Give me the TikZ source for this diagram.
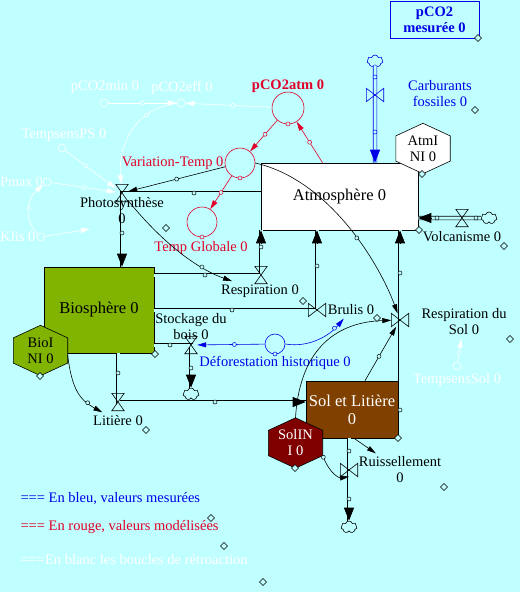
\documentclass[tikz,border=0pt]{standalone}
\usepackage{fontspec}
\setmainfont{Liberation Serif}
\usetikzlibrary{arrows.meta,calc,shapes.symbols,decorations.markings}

\definecolor{fond}{RGB}{192,255,255}
\definecolor{vert}{RGB}{128,180,0}
\definecolor{brun}{RGB}{128,64,0}
\definecolor{bordeaux}{RGB}{128,0,0}
\definecolor{rouge}{RGB}{225,0,40}
\definecolor{bleu}{RGB}{0,0,230}

\tikzset{
  stock/.style={draw, line width=0.6pt, inner sep=0pt, align=center,
    font=\fontsize{16.5}{18}\selectfont},
  hexa/.style={inner sep=0pt, minimum width=54pt, minimum height=50pt},
  aux/.style={circle, draw, line width=0.6pt, inner sep=0pt, minimum size=#1},
  valvehg/.style={inner sep=0pt, minimum width=12pt, minimum height=17pt},
  valvebt/.style={inner sep=0pt, minimum width=17pt, minimum height=13pt},
  cloudy/.style={cloud, cloud puffs=7, aspect=1.3, draw, line width=0.6pt,
    inner sep=0pt, minimum width=16pt, minimum height=12pt},
  pipe/.style={line width=0.7pt, double=fond, double distance=3pt},
  pipetip/.style={line width=0.7pt, -{Triangle[length=13pt,width=10pt]}},
  link/.style={line width=0.6pt, -{Triangle[length=9pt,width=5pt]}},
  wlink/.style={link, white},
  knob/.style={postaction={decorate, decoration={markings,
    mark=at position #1 with {\draw[-, fill=fond, line width=0.5pt] (0,0) circle (2pt);}}}}
}

\begin{document}
\begin{tikzpicture}[x=1pt, y=-1pt, font=\fontsize{14.5}{16}\selectfont]
  \fill[fond] (0,0) rectangle (520,592);
  \useasboundingbox (0,0) rectangle (520,592);

  % stocks
  \node[stock, fill=white, minimum width=157pt, minimum height=67pt] (atm) at (339.5,196.5) {Atmosphère 0};
  \node[stock, fill=vert, minimum width=110pt, minimum height=86pt] (bio) at (99,310) {Biosphère 0};
  \node[stock, fill=brun, text=white, minimum width=92pt, minimum height=57pt] (sol) at (352,409.5) {Sol et Litière\\0};

  % valeurs initiales
  \foreach \n/\x/\y/\f in {atmini/423/148.5/white, bioini/40.5/350.5/vert, solini/295.5/443/bordeaux} {
    \node[hexa] (\n) at (\x,\y) {};
    \filldraw[fill=\f, line width=0.6pt] (\n.north) -- ($(\n.north east)!.5!(\n.east)$)
      -- ($(\n.east)!.5!(\n.south east)$) -- (\n.south)
      -- ($(\n.south west)!.5!(\n.west)$) -- ($(\n.west)!.5!(\n.north west)$) -- cycle;
  }
  \node[align=center] (atmini-t) at (atmini) {AtmI\\NI 0};
  \node[align=center] (bioini-t) at (bioini) {BioI\\NI 0};
  \node[align=center, text=white] (solini-t) at (solini) {SolIN\\I 0};

  % flux
  \node[cloudy, bleu] (c-carb) at (375,61) {};
  \node[cloudy] (c-volc) at (489,218) {};
  \node[cloudy] (c-stock) at (191,394) {};
  \node[cloudy] (c-ruis) at (349,527) {};
  \node[valvebt] (carb) at (375,95) {};
  \node[valvehg] (volc) at (462,218) {};
  \node[valvehg] (ps) at (122,193) {};
  \node[valvehg] (resp) at (261,275) {};
  \node[valvebt] (brul) at (317,310) {};
  \node[valvehg] (stock) at (191,345) {};
  \node[valvehg] (lit) at (118,402) {};
  \node[valvebt] (rsol) at (400,320) {};
  \node[valvebt] (ruis) at (349,470) {};

  \coordinate (carb-e) at (carb |- atm.north);
  \coordinate (volc-e) at (volc -| atm.east);
  \coordinate (ps-e) at (ps |- bio.north);
  \coordinate (resp-e) at (resp |- atm.south);
  \coordinate (brul-e) at (brul |- atm.south);
  \coordinate (stock-e) at (c-stock.north);
  \coordinate (lit-e) at (lit -| sol.west);
  \coordinate (rsol-e) at (rsol |- atm.south);
  \coordinate (ruis-e) at (c-ruis.north);

  \draw[pipe, bleu] (c-carb.south) -- (carb-e);
  \draw[pipe] (c-volc.west) -- (volc-e);
  \draw[pipe] (ps -| atm.west) -- (ps.center) -- (ps-e);
  \draw[pipe] (resp -| bio.east) -- (resp.center) -- (resp-e);
  \draw[pipe] (brul -| bio.east) -- (brul.center) -- (brul-e);
  \draw[pipe] (stock -| bio.east) -- (stock.center) -- (stock-e);
  \draw[pipe] (lit |- bio.south) -- (lit.center) -- (lit-e);
  \draw[pipe] (rsol |- sol.east) -- (rsol-e);
  \draw[pipe] (ruis |- sol.south) -- (ruis-e);

  \foreach \v/\c in {carb/bleu, volc/black, ps/black, resp/black, brul/black,
                     stock/black, lit/black, rsol/black, ruis/black}
    \draw[pipetip, \c] ($(\v-e)!13pt!(\v)$) -- (\v-e);
  \foreach \v in {volc, ps, resp, stock, lit}
    \draw[line width=0.6pt] (\v.north west) -- (\v.south east) -- (\v.south west) -- (\v.north east) -- cycle;
  \foreach \v/\c in {carb/bleu, brul/black, rsol/black, ruis/black}
    \draw[\c, line width=0.6pt] (\v.north west) -- (\v.south east) -- (\v.north east) -- (\v.south west) -- cycle;

  \node[bleu, align=center] (carb-l) at (440,94) {Carburants\\fossiles 0};
  \node (volc-l) at (462,237) {Volcanisme 0};
  \node[align=center] (ps-l) at (122,211) {Photosynthèse\\0};
  \node (resp-l) at (260,291) {Respiration 0};
  \node (brul-l) at (351,310) {Brulis 0};
  \node[align=center] (stock-l) at (191,327) {Stockage du\\bois 0};
  \node (lit-l) at (118,421) {Litière 0};
  \node[align=center] (rsol-l) at (464,322) {Respiration du\\Sol 0};
  \node[align=center] (ruis-l) at (400,470) {Ruissellement\\0};

  % variables
  \node[draw=bleu, line width=0.6pt, text=bleu, font=\fontsize{14.5}{16}\selectfont\bfseries,
    align=center, minimum width=89pt, minimum height=37pt, inner sep=0pt] (pmes) at (434.5,19.5) {pCO2\\mesurée 0};
  \node[aux=32pt, rouge] (pco2atm) at (288,108) {};
  \node[aux=30pt, rouge] (vartemp) at (240,163) {};
  \node[aux=30pt, rouge] (tglob) at (202,222) {};
  \node[aux=20pt, bleu] (defo) at (275,344) {};
  \foreach \n/\x/\y in {pco2eff/181/103, pco2min/104/103, tsps/62/148, pmax/47/182, klis/41/237, tsol/457/366}
    \node[aux=8pt, white] (\n) at (\x,\y) {};

  \node[rouge, font=\fontsize{14.5}{16}\selectfont\bfseries] (pco2atm-l) at (288,86) {pCO2atm 0};
  \node[rouge, anchor=east] (vartemp-l) at (227,163) {Variation-Temp 0};
  \node[rouge] (tglob-l) at (201,248) {Temp Globale 0};
  \node[bleu] (defo-l) at (275,363) {Déforestation historique 0};
  \node[white] (pco2min-l) at (105,87) {pCO2min 0};
  \node[white] (pco2eff-l) at (182,88) {pCO2eff 0};
  \node[white] (tsps-l) at (64,135) {TempsensPS 0};
  \node[white, anchor=east, inner sep=0.5pt, font=\fontsize{14}{16}\selectfont] (pmax-l) at (43.5,182) {Pmax 0};
  \node[white, anchor=east] (klis-l) at (39,237) {Klis 0};
  \node[white] (tsol-l) at (457,380) {TempsensSol 0};
  \coordinate (klis-e) at (90,229);

  % liens
  \draw[link, rouge, knob=0.45] (pco2atm) -- (vartemp);
  \draw[link, rouge, knob=0.5] ([xshift=-17pt]atm.north) -- (pco2atm);
  \draw[link, rouge, knob=0.5] (vartemp) -- (tglob);
  \draw[link, knob=0.5] (vartemp) -- (ps);
  \draw[link, knob=0.6] (vartemp.east) .. controls (330,180) and (380,265) .. (rsol);
  \draw[link, knob=0.75] (ps) .. controls (160,240) and (195,268) .. (resp-l);
  \draw[link, bleu, knob=0.45] (defo) -- (stock);
  \draw[link, bleu, knob=0.8] (defo.east) .. controls (310,348) and (330,335) .. (brul-l);
  \draw[link, knob=0.45] ([xshift=13pt]sol.north) -- (rsol);
  \draw[link] (solini.north) .. controls (300,345) and (340,322) .. (rsol);
  \draw[link] ([xshift=2pt]sol.south) -- (ruis-l);
  \draw[link, knob=0.05] ($(solini.east)!.5!(solini.south east)$) .. controls (330,475) and (340,478) .. (ruis.south);
  \draw[link, knob=0.75] ([yshift=-5pt]bioini.east) .. controls (72,390) and (80,400) .. (lit-l);

  \draw[wlink, knob=0.45] (pco2atm) -- (pco2eff);
  \draw[wlink, knob=0.5] (pco2min) -- (pco2eff);
  \draw[wlink, knob=0.3] (pco2eff) .. controls (135,108) and (118,145) .. (ps);
  \draw[wlink, knob=0.4] (tsps) -- (ps);
  \draw[wlink, knob=0.5] (pmax) -- (ps);
  \draw[wlink, knob=0.5] (klis) .. controls (25,222) and (25,200) .. (pmax);
  \draw[wlink] (klis) -- (klis-e);
  \draw[wlink, knob=0.4] (tsol) -- (rsol-l);

  % poignees
  \foreach \x/\y/\c in {375/77/bleu, 375/132/bleu, 476/218/black, 437/218/black, 194/193/black,
      122/233/black, 205/275/black, 261/247/black, 232/310/black, 317/266/black, 170/345/black,
      191/368/black, 118/373/black, 215/402/black, 400/273/black, 400/410/black, 349/451/black,
      349/499/black, 288/124/rouge, 240/178/rouge, 202/237/rouge, 275/354/bleu}
    \draw[\c, fill=fond, line width=0.5pt] (\x,\y) circle (2pt);
  \foreach \x/\y in {478/38, 475/110, 422/174, 419/230, 504/246, 166/228, 303/301, 377/318,
      155/354, 40/376, 146/430, 295/468, 398/438, 444/487, 510/339, 211/518, 224/546, 263/582}
    \draw[fill=fond, line width=0.5pt] (\x,\y) +(0,-3.5) -- +(3.5,0) -- +(0,3.5) -- +(-3.5,0) -- cycle;

  % legende
  \node[bleu, anchor=west] (leg-b) at (17,499) {=== En bleu, valeurs mesurées};
  \node[rouge, anchor=west] (leg-r) at (17,527) {=== En rouge, valeurs modélisées};
  \node[white, anchor=west] (leg-w) at (17,560) {===En blanc les boucles de rétroaction};
\end{tikzpicture}
\end{document}
